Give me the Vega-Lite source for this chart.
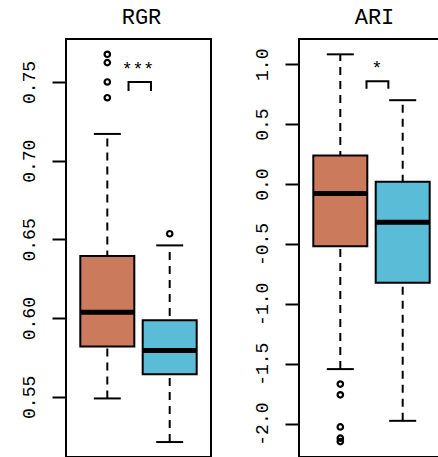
{
  "$schema": "https://vega.github.io/schema/vega-lite/v6.json",
  "padding": {"left": 5, "top": 5, "right": 0, "bottom": 0},
  "background": "white",
  "spacing": 26,
  "config": {
    "view": {"stroke": "black", "strokeWidth": 2},
    "font": "Liberation Mono",
    "axis": {
      "domain": false,
      "grid": false,
      "ticks": true,
      "tickColor": "black",
      "tickWidth": 2,
      "tickSize": 14,
      "labelFont": "Liberation Mono",
      "labelFontSize": 18,
      "labelColor": "black",
      "labelAngle": -90,
      "labelAlign": "center",
      "labelBaseline": "bottom",
      "labelPadding": 14,
      "minExtent": 60,
      "maxExtent": 60,
      "title": null
    },
    "title": {"font": "Liberation Mono", "fontSize": 22, "fontWeight": 400, "color": "black", "frame": "group", "anchor": "middle", "offset": 10, "dx": 3}
  },
  "datasets": {
    "rgr_box": [
      {"grp": 1, "lower": 0.549, "q1": 0.582, "median": 0.6037, "q3": 0.6395, "upper": 0.717},
      {"grp": 2, "lower": 0.5213, "q1": 0.5643, "median": 0.5795, "q3": 0.5986, "upper": 0.6462}
    ],
    "rgr_out": [
      {"grp": 1, "value": 0.740},
      {"grp": 1, "value": 0.750},
      {"grp": 1, "value": 0.7623},
      {"grp": 1, "value": 0.7676},
      {"grp": 2, "value": 0.6536}
    ],
    "rgr_sig": [
      {"k": 0, "x": 1.34, "y": 0.7449},
      {"k": 1, "x": 1.34, "y": 0.75},
      {"k": 2, "x": 1.70, "y": 0.75},
      {"k": 3, "x": 1.70, "y": 0.7449}
    ],
    "ari_box": [
      {"grp": 1, "lower": -1.545, "q1": -0.519, "median": -0.080, "q3": 0.238, "upper": 1.083},
      {"grp": 2, "lower": -1.977, "q1": -0.825, "median": -0.320, "q3": 0.020, "upper": 0.700}
    ],
    "ari_out": [
      {"grp": 1, "value": -1.670},
      {"grp": 1, "value": -1.760},
      {"grp": 1, "value": -2.028},
      {"grp": 1, "value": -2.122},
      {"grp": 1, "value": -2.150}
    ],
    "ari_sig": [
      {"k": 0, "x": 1.42, "y": 0.803},
      {"k": 1, "x": 1.42, "y": 0.859},
      {"k": 2, "x": 1.77, "y": 0.859},
      {"k": 3, "x": 1.77, "y": 0.803}
    ]
  },
  "hconcat": [
    {
      "title": {"text": "RGR", "fontWeight": 400},
      "width": 145,
      "height": 418,
      "layer": [
        {
          "data": {"name": "rgr_box"},
          "mark": {"type": "rule", "strokeDash": [8, 6], "strokeWidth": 2, "color": "black"},
          "encoding": {
            "x": {"field": "grp", "type": "quantitative", "scale": {"domain": [0.418, 2.582], "nice": false, "zero": false}, "axis": null},
            "y": {"field": "lower", "type": "quantitative", "scale": {"domain": [0.5118, 0.7773], "nice": false, "zero": false},
                  "axis": {"values": [0.55, 0.6, 0.65, 0.7, 0.75], "format": ".2f"}},
            "y2": {"field": "upper"}
          }
        },
        {
          "data": {"name": "rgr_box"},
          "mark": {"type": "tick", "orient": "horizontal", "size": 27, "thickness": 2, "color": "black", "opacity": 1},
          "encoding": {
            "x": {"field": "grp", "type": "quantitative"},
            "y": {"field": "lower", "type": "quantitative"}
          }
        },
        {
          "data": {"name": "rgr_box"},
          "mark": {"type": "tick", "orient": "horizontal", "size": 27, "thickness": 2, "color": "black", "opacity": 1},
          "encoding": {
            "x": {"field": "grp", "type": "quantitative"},
            "y": {"field": "upper", "type": "quantitative"}
          }
        },
        {
          "data": {"name": "rgr_box"},
          "mark": {"type": "bar", "width": 54, "stroke": "black", "strokeWidth": 2, "opacity": 1},
          "encoding": {
            "x": {"field": "grp", "type": "quantitative"},
            "y": {"field": "q1", "type": "quantitative"},
            "y2": {"field": "q3"},
            "fill": {"field": "grp", "type": "nominal", "scale": {"domain": [1, 2], "range": ["#CC7A5C", "#5ABCD6"]}, "legend": null}
          }
        },
        {
          "data": {"name": "rgr_box"},
          "mark": {"type": "tick", "orient": "horizontal", "size": 54, "thickness": 5, "color": "black", "opacity": 1},
          "encoding": {
            "x": {"field": "grp", "type": "quantitative"},
            "y": {"field": "median", "type": "quantitative"}
          }
        },
        {
          "data": {"name": "rgr_out"},
          "mark": {"type": "point", "shape": "circle", "filled": false, "size": 30, "strokeWidth": 2.2, "color": "black", "opacity": 1},
          "encoding": {
            "x": {"field": "grp", "type": "quantitative"},
            "y": {"field": "value", "type": "quantitative"}
          }
        },
        {
          "data": {"name": "rgr_sig"},
          "mark": {"type": "line", "strokeWidth": 2, "color": "black", "strokeCap": "square", "strokeJoin": "miter"},
          "encoding": {
            "x": {"field": "x", "type": "quantitative"},
            "y": {"field": "y", "type": "quantitative"},
            "order": {"field": "k", "type": "quantitative"}
          }
        },
        {
          "data": {"values": [{"label": "***", "x": 1.49, "y": 0.7545}]},
          "mark": {"type": "text", "font": "Liberation Mono", "fontSize": 18, "color": "black", "align": "center", "baseline": "alphabetic"},
          "encoding": {
            "x": {"field": "x", "type": "quantitative"},
            "y": {"field": "y", "type": "quantitative"},
            "text": {"field": "label"}
          }
        }
      ]
    },
    {
      "title": {"text": "ARI", "fontWeight": 400},
      "width": 145,
      "height": 418,
      "layer": [
        {
          "data": {"name": "ari_box"},
          "mark": {"type": "rule", "strokeDash": [8, 6], "strokeWidth": 2, "color": "black"},
          "encoding": {
            "x": {"field": "grp", "type": "quantitative", "scale": {"domain": [0.418, 2.582], "nice": false, "zero": false}, "axis": null},
            "y": {"field": "lower", "type": "quantitative", "scale": {"domain": [-2.279, 1.211], "nice": false, "zero": false},
                  "axis": {"values": [-2, -1.5, -1, -0.5, 0, 0.5, 1], "labelExpr": "replace(format(datum.value, '.1f'), '\u2212', '-')"}},
            "y2": {"field": "upper"}
          }
        },
        {
          "data": {"name": "ari_box"},
          "mark": {"type": "tick", "orient": "horizontal", "size": 27, "thickness": 2, "color": "black", "opacity": 1},
          "encoding": {
            "x": {"field": "grp", "type": "quantitative"},
            "y": {"field": "lower", "type": "quantitative"}
          }
        },
        {
          "data": {"name": "ari_box"},
          "mark": {"type": "tick", "orient": "horizontal", "size": 27, "thickness": 2, "color": "black", "opacity": 1},
          "encoding": {
            "x": {"field": "grp", "type": "quantitative"},
            "y": {"field": "upper", "type": "quantitative"}
          }
        },
        {
          "data": {"name": "ari_box"},
          "mark": {"type": "bar", "width": 54, "stroke": "black", "strokeWidth": 2, "opacity": 1},
          "encoding": {
            "x": {"field": "grp", "type": "quantitative"},
            "y": {"field": "q1", "type": "quantitative"},
            "y2": {"field": "q3"},
            "fill": {"field": "grp", "type": "nominal", "scale": {"domain": [1, 2], "range": ["#CC7A5C", "#5ABCD6"]}, "legend": null}
          }
        },
        {
          "data": {"name": "ari_box"},
          "mark": {"type": "tick", "orient": "horizontal", "size": 54, "thickness": 5, "color": "black", "opacity": 1},
          "encoding": {
            "x": {"field": "grp", "type": "quantitative"},
            "y": {"field": "median", "type": "quantitative"}
          }
        },
        {
          "data": {"name": "ari_out"},
          "mark": {"type": "point", "shape": "circle", "filled": false, "size": 30, "strokeWidth": 2.2, "color": "black", "opacity": 1},
          "encoding": {
            "x": {"field": "grp", "type": "quantitative"},
            "y": {"field": "value", "type": "quantitative"}
          }
        },
        {
          "data": {"name": "ari_sig"},
          "mark": {"type": "line", "strokeWidth": 2, "color": "black", "strokeCap": "square", "strokeJoin": "miter"},
          "encoding": {
            "x": {"field": "x", "type": "quantitative"},
            "y": {"field": "y", "type": "quantitative"},
            "order": {"field": "k", "type": "quantitative"}
          }
        },
        {
          "data": {"values": [{"label": "*", "x": 1.587, "y": 0.918}]},
          "mark": {"type": "text", "font": "Liberation Mono", "fontSize": 18, "color": "black", "align": "center", "baseline": "alphabetic"},
          "encoding": {
            "x": {"field": "x", "type": "quantitative"},
            "y": {"field": "y", "type": "quantitative"},
            "text": {"field": "label"}
          }
        }
      ]
    }
  ]
}
